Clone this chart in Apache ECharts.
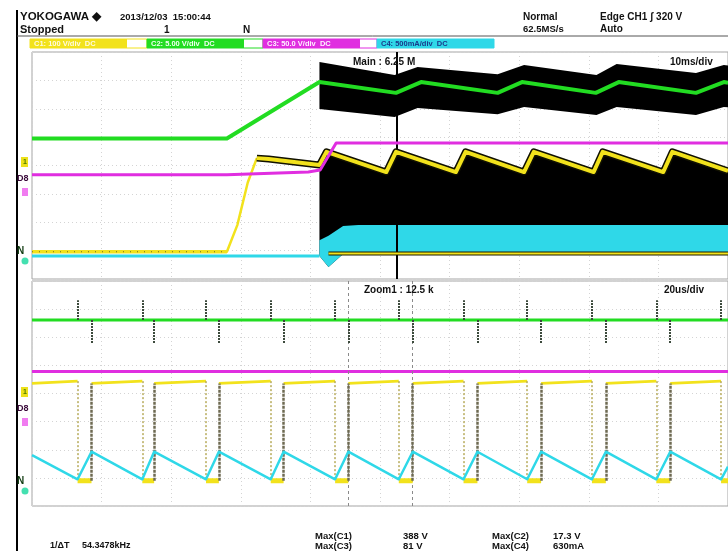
<!DOCTYPE html>
<html>
<head>
<meta charset="utf-8">
<script src="https://cdn.jsdelivr.net/npm/echarts@6/dist/echarts.min.js"></script>
<style>
html,body{margin:0;padding:0;background:#fff;}
#scope{width:728px;height:551px;}
</style>
</head>
<body>
<div id="scope"></div>
<script>
// ---------- Main record (10 ms/div): time in ms, level in screen divisions (0 = panel bottom) ----------
const mainTime_C2   = [0, 28.0, 41.3, 52.3, 55.9, 66.9, 70.4, 81.0, 84.3, 95.4, 99.4, 100];
const mainLevel_C2  = [4.95, 4.95, 6.94, 6.56, 6.94, 6.56, 6.94, 6.56, 6.94, 6.56, 6.94, 6.92];
const envTime_C2    = [41.3, 52.1, 55.4, 66.9, 70.7, 81.1, 84.0, 95.4, 99.4, 100];
const envTop_C2     = [7.65, 7.19, 7.47, 7.22, 7.54, 7.19, 7.58, 7.26, 7.54, 7.52];
const envBottom_C2  = [5.99, 5.71, 6.03, 5.81, 6.06, 5.78, 6.06, 5.78, 6.06, 6.05];

// CH1: idle level, soft-start ramp, then the rectified-ripple envelope top
const riseTime_C1   = [0, 28.0, 29.5, 31.0, 32.3];
const riseLevel_C1  = [0.96, 0.96, 1.90, 3.40, 4.26];
const mainTime_C1   = [32.3, 34.0, 41.3, 42.3, 50.9, 52.3, 60.9, 62.3, 70.7, 72.1, 80.7, 82.0, 90.7, 92.0, 100];
const mainLevel_C1  = [4.26, 4.23, 4.02, 4.48, 3.77, 4.48, 3.77, 4.48, 3.77, 4.48, 3.77, 4.48, 3.77, 4.48, 3.81];
const floorTime_C1  = [41.3, 42.6, 44.7, 100];
const floorLevel_C1 = [0.81, 0.42, 0.88, 0.90];
const lowTime_C1    = [42.6, 100];
const lowLevel_C1   = [0.90, 0.90];

const mainTime_C4    = [0, 41.3];
const mainLevel_C4   = [0.81, 0.81];
const bandTopTime_C4 = [41.3, 42.6, 44.7, 46.9, 100];
const bandTop_C4     = [1.37, 1.52, 1.87, 1.90, 1.90];
const bandBotTime_C4 = [41.3, 42.6, 44.7, 100];
const bandBot_C4     = [0.81, 0.42, 0.88, 0.92];

const mainTime_C3   = [0, 28.0, 39.7, 41.4, 43.7, 100];
const mainLevel_C3  = [3.67, 3.67, 3.77, 3.84, 4.79, 4.79];

const zoomPosition = 52.4;   // ms, zoom window centre in the main record

// ---------- Zoom window (20 us/div): time in us ----------
const zoomFall = [13.1, 31.7, 50.0, 68.6, 87.1, 105.4, 124.0, 142.3, 160.9, 179.4, 198.0];
const zoomRise = [17.1, 35.1, 53.7, 72.3, 90.9, 109.4, 128.0, 146.3, 164.9, 183.4];
const zoomLevel_C2 = 6.61, spikeHigh_C2 = 7.32, spikeLow_C2 = 5.78;
const zoomHighStart_C1 = 4.36, zoomHighEnd_C1 = 4.44, zoomLow_C1 = 0.90;
const zoomStart_C4 = 1.81, zoomPeak_C4 = 1.93, zoomValley_C4 = 0.95, zoomEnd_C4 = 1.40;
const zoomLevel_C3 = 4.78;
const cursorA = 90.9, cursorB = 109.3;   // us, 1/dT cursors

// ---------- Colours / fonts ----------
const YEL = '#f2e21c', GRN = '#22dc22', MAG = '#e02ee0', CYN = '#2fd8e8';
const FONT = '"Liberation Sans", Arial, sans-serif';

const zip = (t, v) => t.map((x, i) => [x, v[i]]);

function trace(data, color, width, gi, z, extra) {
  return Object.assign({
    type: 'line', xAxisIndex: gi, yAxisIndex: gi, data, z,
    symbol: 'none', showSymbol: false, silent: true, animation: false, clip: true,
    emphasis: { disabled: true },
    lineStyle: { color, width, cap: 'butt', join: 'round' }
  }, extra || {});
}

function band(upper, lower, fill, gi, z) {
  const pts = upper.concat(lower.slice().reverse());
  return {
    type: 'custom', xAxisIndex: gi, yAxisIndex: gi, z, silent: true, clip: true, animation: false,
    data: [pts[0]],
    renderItem(params, api) {
      return { type: 'polygon', shape: { points: pts.map(p => api.coord(p)) }, style: { fill } };
    }
  };
}

function segs(list, color, width, type, gi, z) {
  return {
    type: 'lines', coordinateSystem: 'cartesian2d', xAxisIndex: gi, yAxisIndex: gi, z,
    silent: true, animation: false,
    lineStyle: { color, width, type, opacity: 1, curveness: 0 },
    data: list.map(c => ({ coords: c }))
  };
}

// Zoom-window traces assembled from the edge times
const yHigh = [], yLow = [], cyan = [[0, zoomStart_C4]];
zoomFall.forEach((f, i) => {
  const start = i === 0 ? 0 : zoomRise[i - 1];
  yHigh.push([start, zoomHighStart_C1], [f, zoomHighEnd_C1], [f, null]);
  const r = i < zoomRise.length ? zoomRise[i] : 200;
  yLow.push([f, zoomLow_C1], [r, zoomLow_C1], [r, null]);
  cyan.push([f, zoomValley_C4]);
  if (i < zoomRise.length) cyan.push([zoomRise[i], zoomPeak_C4]);
});
cyan.push([200, zoomEnd_C4]);

const fallEdges = zoomFall.map(t => [[t, zoomHighEnd_C1], [t, zoomLow_C1]]);
const riseEdges = zoomRise.map(t => [[t, zoomLow_C1], [t, zoomHighStart_C1]]);
const spikesUp  = zoomFall.map(t => [[t, zoomLevel_C2], [t, spikeHigh_C2]]);
const spikesDn  = zoomRise.map(t => [[t, zoomLevel_C2], [t, spikeLow_C2]]);

const mainC1 = zip(mainTime_C1, mainLevel_C1);
const c1Top = mainC1.filter(p => p[0] >= 41.3);
const riseC1 = zip(riseTime_C1, riseLevel_C1);
const idleC1 = riseC1.filter(p => p[0] <= 28.0);

const gridLine = { show: true, lineStyle: { color: '#d4d4d4', width: 1, type: [1, 3] } };
const hidden = { axisLine: { show: false }, axisTick: { show: false }, axisLabel: { show: false } };

function txt(x, y, s, size, o) {
  return {
    type: 'text', x, y, silent: true, z: 100,
    style: Object.assign({
      text: s, fill: '#111', fontFamily: FONT, fontSize: size || 10, fontWeight: 'bold',
      textAlign: 'left', textVerticalAlign: 'middle', align: 'left', verticalAlign: 'middle'
    }, o || {})
  };
}
function rect(x, y, w, h, fill, stroke) {
  return { type: 'rect', silent: true, z: 90, shape: { x, y, width: w, height: h },
           style: { fill, stroke: stroke || null, lineWidth: stroke ? 1 : 0 } };
}
function chanBar(x, w, fillW, color, label, textColor) {
  return [
    rect(x, 39, w, 9, '#ffffff', color),
    rect(x, 39, fillW, 9, color),
    txt(x + 4, 43.5, label, 7.5, { fill: textColor })
  ];
}
function markers(y0) {
  return [
    rect(21, y0, 7, 10, '#ece11a'),
    txt(23, y0 + 5, '1', 7, { fill: '#4a7a00' }),
    txt(17, y0 + 22, 'D8', 9, { fill: '#3a0a3a' }),
    rect(22, y0 + 31, 6, 8, '#f07cf0'),
    txt(17, y0 + 94, 'N', 10, { fill: '#0f3a0f' }),
    { type: 'circle', silent: true, z: 90, shape: { cx: 25, cy: y0 + 104, r: 3.5 }, style: { fill: '#44e0b0' } }
  ];
}

const option = {
  backgroundColor: '#ffffff',
  animation: false,
  grid: [
    { left: 32, top: 52, width: 700, height: 227, show: true, borderColor: '#a4a4a4', borderWidth: 1, backgroundColor: 'transparent' },
    { left: 32, top: 281, width: 700, height: 225, show: true, borderColor: '#a4a4a4', borderWidth: 1, backgroundColor: 'transparent' }
  ],
  xAxis: [
    Object.assign({ gridIndex: 0, type: 'value', min: 0, max: 100, interval: 10, splitLine: gridLine }, hidden),
    Object.assign({ gridIndex: 1, type: 'value', min: 0, max: 200, interval: 20, splitLine: gridLine }, hidden)
  ],
  yAxis: [
    Object.assign({ gridIndex: 0, type: 'value', min: 0, max: 8, interval: 1, splitLine: gridLine }, hidden),
    Object.assign({ gridIndex: 1, type: 'value', min: 0, max: 8, interval: 1, splitLine: gridLine }, hidden)
  ],
  series: [
    // main window
    band(c1Top, zip(floorTime_C1, floorLevel_C1), '#000000', 0, 2),
    band(zip(envTime_C2, envTop_C2), zip(envTime_C2, envBottom_C2), '#000000', 0, 2),
    band(zip(bandTopTime_C4, bandTop_C4), zip(bandBotTime_C4, bandBot_C4), CYN, 0, 3),
    trace(zip(mainTime_C4, mainLevel_C4), CYN, 3, 0, 4),
    trace(zip(lowTime_C1, lowLevel_C1), '#1a1a00', 4, 0, 5),
    trace(zip(lowTime_C1, lowLevel_C1), YEL, 2, 0, 6),
    trace(riseC1, YEL, 2.5, 0, 7),
    trace(idleC1, YEL, 3.5, 0, 7),
    trace(idleC1, '#6f6a1e', 1, 0, 8, { lineStyle: { color: '#6f6a1e', width: 1, type: [1, 6] } }),
    trace(mainC1, '#111100', 7, 0, 7),
    trace(mainC1, YEL, 4, 0, 8),
    trace(zip(mainTime_C3, mainLevel_C3), MAG, 3, 0, 9),
    trace(zip(mainTime_C2, mainLevel_C2), GRN, 4, 0, 10, {
      markLine: {
        silent: true, symbol: 'none', animation: false, label: { show: false },
        lineStyle: { color: '#000', width: 2, type: 'solid' },
        data: [{ xAxis: zoomPosition }]
      }
    }),
    // zoom window
    trace([[0, zoomLevel_C3], [200, zoomLevel_C3]], MAG, 3, 1, 4, {
      markLine: {
        silent: true, symbol: 'none', animation: false, label: { show: false },
        lineStyle: { color: '#8a8a8a', width: 1, type: [3, 3] },
        data: [{ xAxis: cursorA }, { xAxis: cursorB }]
      }
    }),
    trace([[0, zoomLevel_C2], [200, zoomLevel_C2]], GRN, 3, 1, 5),
    segs(spikesUp, '#3c4a3c', 2, [2, 1], 1, 6),
    segs(spikesDn, '#3c4a3c', 2, [2, 1], 1, 6),
    trace(yHigh, YEL, 3, 1, 5),
    trace(yLow, YEL, 5, 1, 5),
    segs(fallEdges, '#b6aa5a', 1.5, [2, 2], 1, 6),
    segs(riseEdges, '#6e6a52', 2.5, [3, 1], 1, 6),
    trace(cyan, CYN, 2.5, 1, 7)
  ],
  graphic: [].concat(
    [
      { type: 'line', silent: true, z: 90, shape: { x1: 17, y1: 10, x2: 17, y2: 551 }, style: { stroke: '#000', lineWidth: 2 } },
      { type: 'line', silent: true, z: 90, shape: { x1: 17, y1: 36, x2: 728, y2: 36 }, style: { stroke: '#555', lineWidth: 1 } },
      txt(20, 17, 'YOKOGAWA \u25C6', 11.5),
      txt(120, 17, '2013/12/03  15:00:44', 9.5),
      txt(20, 30, 'Stopped', 11),
      txt(164, 30, '1', 10),
      txt(243, 30, 'N', 10),
      txt(523, 17, 'Normal', 10),
      txt(523, 29, '62.5MS/s', 9.5),
      txt(600, 17, 'Edge CH1 \u0283 320 V', 10),
      txt(600, 29, 'Auto', 10),
      txt(353, 62, 'Main : 6.25 M', 10),
      txt(670, 62, '10ms/div', 10),
      txt(364, 290, 'Zoom1 : 12.5 k', 10),
      txt(664, 290, '20us/div', 10),
      txt(50, 546, '1/\u0394T', 9),
      txt(82, 546, '54.3478kHz', 9),
      txt(315, 536, 'Max(C1)', 9.5),
      txt(315, 546, 'Max(C3)', 9.5),
      txt(403, 536, '388 V', 9.5),
      txt(403, 546, '81 V', 9.5),
      txt(492, 536, 'Max(C2)', 9.5),
      txt(492, 546, 'Max(C4)', 9.5),
      txt(553, 536, '17.3 V', 9.5),
      txt(553, 546, '630mA', 9.5)
    ],
    chanBar(30, 117, 97, YEL, 'C1: 100 V/div  DC', '#fffbe0'),
    chanBar(147, 116, 97, GRN, 'C2: 5.00 V/div  DC', '#f0fff0'),
    chanBar(263, 114, 97, MAG, 'C3: 50.0 V/div  DC', '#fff0ff'),
    chanBar(377, 117, 117, CYN, 'C4: 500mA/div  DC', '#1a3a8a'),
    markers(157),
    markers(387)
  )
};

const chart = echarts.init(document.getElementById('scope'), null, { renderer: 'canvas' });
chart.setOption(option);
</script>
</body>
</html>
